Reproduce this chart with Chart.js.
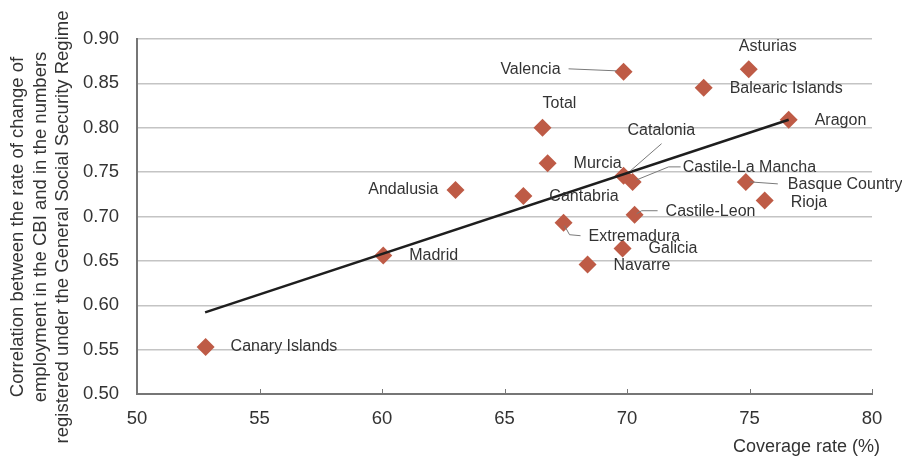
<!DOCTYPE html>
<html>
<head>
<meta charset="utf-8">
<script src="https://cdn.jsdelivr.net/npm/chart.js@4"></script>
<style>
  html, body { margin: 0; padding: 0; background: #fff; }
  #wrap { width: 902px; height: 467px; }
</style>
</head>
<body>
<div id="wrap"><canvas id="scatterChart"></canvas></div>
<script>
// ------------------------------
// Data
// ------------------------------
const regions = ['Canary Islands', 'Madrid', 'Andalusia', 'Cantabria', 'Total', 'Murcia',
    'Extremadura', 'Navarre', 'Galicia', 'Valencia', 'Catalonia', 'Castile-La Mancha',
    'Castile-Leon', 'Balearic Islands', 'Asturias', 'Basque Country', 'Rioja', 'Aragon'];
const coverage = [52.8, 60.05, 63.0, 65.77, 66.55, 66.76, 67.41, 68.39, 69.82, 69.86, 69.86,
    70.23, 70.31, 73.13, 74.97, 74.85, 75.62, 76.6];
const correlation = [0.553, 0.656, 0.730, 0.723, 0.800, 0.760, 0.693, 0.646, 0.664, 0.863, 0.746,
    0.739, 0.702, 0.845, 0.866, 0.739, 0.718, 0.809];

// fitted line end points
const trendX = [52.78, 76.6];
const trendY = [0.592, 0.809];

const xTicks = [50, 55, 60, 65, 70, 75, 80];
const yTicks = [0.50, 0.55, 0.60, 0.65, 0.70, 0.75, 0.80, 0.85, 0.90];

const yTitle = ['Correlation between the rate of change of',
    'employment in the CBI and in the numbers',
    'registered under the General Social Security Regime'];
const xTitle = 'Coverage rate (%)';

// label placement (pixels relative to marker), leaders drawn in grey
const labelPos = {
    'Canary Islands': { dx: 25, dy: 0 },
    'Madrid': { dx: 26, dy: 0 },
    'Andalusia': { dx: -17, dy: 0, align: 'right' },
    'Cantabria': { dx: 26, dy: 1 },
    'Total': { dx: 17, dy: -24, align: 'center' },
    'Murcia': { dx: 26, dy: 0 },
    'Extremadura': { dx: 25, dy: 14, leader: [[1, 3], [6, 12], [17, 13]] },
    'Navarre': { dx: 26, dy: 1 },
    'Galicia': { dx: 26, dy: 0 },
    'Valencia': { dx: -63, dy: -2, align: 'right', leader: [[-55, -3], [-7, -1]] },
    'Catalonia': { dx: 4, dy: -45, leader: [[38, -32], [7, -5]] },
    'Castile-La Mancha': { dx: 50, dy: -14, leader: [[48, -15], [36, -15], [4, -2]] },
    'Castile-Leon': { dx: 31, dy: -3, leader: [[23, -4], [7, -4], [2, -1]] },
    'Balearic Islands': { dx: 26, dy: 1 },
    'Asturias': { dx: 19, dy: -23, align: 'center' },
    'Basque Country': { dx: 42, dy: 3, leader: [[4, 0], [32, 2]] },
    'Rioja': { dx: 26, dy: 2 },
    'Aragon': { dx: 26, dy: 1 }
};

const FONT = '"Liberation Sans", Arial, Helvetica, sans-serif';
const TEXT = '#333333';

// ------------------------------
// Plugin: point labels, inner x ticks and axis titles
// ------------------------------
const decorations = {
    id: 'decorations',
    afterDatasetsDraw(chart) {
        const ctx = chart.ctx;
        const meta = chart.getDatasetMeta(1);
        ctx.save();
        ctx.font = '16px ' + FONT;
        ctx.textBaseline = 'middle';
        meta.data.forEach((pt, i) => {
            const pos = labelPos[regions[i]];
            if (pos.leader) {
                ctx.strokeStyle = '#7a7a7a';
                ctx.lineWidth = 1;
                ctx.beginPath();
                pos.leader.forEach(([lx, ly], k) => {
                    if (k === 0) ctx.moveTo(pt.x + lx, pt.y + ly);
                    else ctx.lineTo(pt.x + lx, pt.y + ly);
                });
                ctx.stroke();
            }
            ctx.fillStyle = TEXT;
            ctx.textAlign = pos.align || 'left';
            ctx.fillText(regions[i], pt.x + pos.dx, pt.y + pos.dy);
        });
        ctx.restore();
    },
    afterDraw(chart) {
        const ctx = chart.ctx;
        const xs = chart.scales.x;
        const area = chart.chartArea;
        ctx.save();
        // small tick marks pointing into the plot
        ctx.strokeStyle = '#777';
        ctx.lineWidth = 1;
        xTicks.slice(1).forEach(v => {
            const px = Math.round(xs.getPixelForValue(v)) + 0.5;
            ctx.beginPath();
            ctx.moveTo(px, area.bottom);
            ctx.lineTo(px, area.bottom - 5);
            ctx.stroke();
        });
        // axis titles
        ctx.fillStyle = TEXT;
        ctx.font = '18px ' + FONT;
        ctx.textAlign = 'right';
        ctx.textBaseline = 'middle';
        ctx.fillText(xTitle, 880, 447);
        ctx.font = '18.5px ' + FONT;
        ctx.textAlign = 'center';
        ctx.translate(0, 227);
        ctx.rotate(-Math.PI / 2);
        yTitle.forEach((line, i) => ctx.fillText(line, 0, 18 + i * 22.5));
        ctx.restore();
    }
};

new Chart(document.getElementById('scatterChart').getContext('2d'), {
    type: 'scatter',
    data: {
        datasets: [
            {
                label: 'Trend',
                type: 'line',
                data: trendX.map((x, i) => ({ x, y: trendY[i] })),
                borderColor: '#1e1e1e',
                borderWidth: 2.5,
                pointRadius: 0,
                fill: false,
                order: 0
            },
            {
                label: 'Regions',
                data: coverage.map((x, i) => ({ x, y: correlation[i] })),
                pointStyle: 'rectRot',
                pointRadius: 9,
                pointHoverRadius: 9,
                backgroundColor: '#be5b46',
                borderColor: '#be5b46',
                borderWidth: 0,
                order: 1
            }
        ]
    },
    options: {
        responsive: true,
        maintainAspectRatio: false,
        animation: false,
        layout: { padding: { top: 39, right: 30, left: 0, bottom: 0 } },
        plugins: {
            legend: { display: false },
            tooltip: { enabled: false }
        },
        scales: {
            x: {
                type: 'linear',
                min: 50,
                max: 80,
                afterBuildTicks: s => { s.ticks = xTicks.map(v => ({ value: v })); },
                afterFit: s => { s.height = 73; },
                grid: { drawOnChartArea: false, drawTicks: false },
                border: { color: '#767676', width: 2 },
                ticks: {
                    padding: 14,
                    color: TEXT,
                    font: { family: FONT, size: 18.5 }
                }
            },
            y: {
                type: 'linear',
                min: 0.5,
                max: 0.9,
                afterBuildTicks: s => { s.ticks = yTicks.map(v => ({ value: v })); },
                afterFit: s => { s.width = 137; },
                grid: { color: '#c4c4c4', lineWidth: 1.5, drawTicks: false },
                border: { color: '#767676', width: 2 },
                ticks: {
                    padding: 18,
                    color: TEXT,
                    font: { family: FONT, size: 18.5 },
                    callback: v => v.toFixed(2)
                }
            }
        }
    },
    plugins: [decorations]
});
</script>
</body>
</html>
